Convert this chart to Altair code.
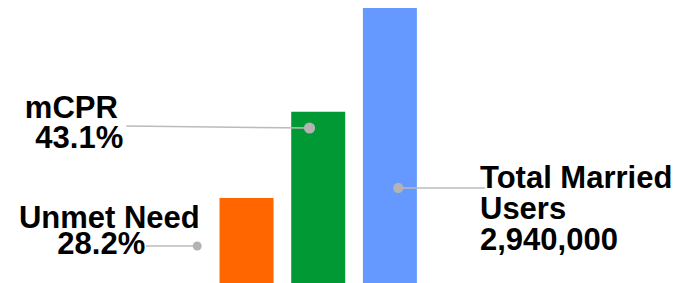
import altair as alt
import pandas as pd

# Bars (values in millions of users)
categories = ["Unmet Need", "mCPR", "Total Married Users"]
positions = [1, 2, 3]
values = [0.90, 1.81, 2.94]
colors = ["#FF6600", "#009933", "#6699FF"]

# Annotation dots (on/near each bar) and leader lines
dot_x = [0.312, 1.879, 3.117]
dot_y = [0.391, 1.639, 1.005]
dot_size = [80, 125, 105]
line_x_start = [-0.402, -0.677, 3.117]
line_y_start = [0.391, 1.660, 1.005]
line_x_end = [0.312, 1.879, 4.326]
line_y_end = [0.391, 1.639, 1.005]

# Label text lines
label_text = ["mCPR", "43.1%", "Unmet Need", "28.2%",
              "Total Married", "Users", "2,940,000"]
label_x = [-2.093, -1.946, -2.176, -1.640, 4.257, 4.257, 4.257]
label_y = [1.745, 1.428, 0.582, 0.307, 1.005, 0.677, 0.349]

bars_df = pd.DataFrame({"cat": categories, "pos": positions, "val": values, "color": colors})
dots_df = pd.DataFrame({"x": dot_x, "y": dot_y, "s": dot_size})
lines_df = pd.DataFrame({"x": line_x_start, "y": line_y_start, "x2": line_x_end, "y2": line_y_end})
text_df = pd.DataFrame({"t": label_text, "x": label_x, "y": label_y})

xs = alt.Scale(domain=[-2.258, 7.117], nice=False, zero=False)
ys = alt.Scale(domain=[0, 2.908], nice=False, zero=True)

bars = alt.Chart(bars_df).mark_bar(size=54).encode(
    x=alt.X("pos:Q", scale=xs, axis=None),
    y=alt.Y("val:Q", scale=ys, axis=None),
    color=alt.Color("color:N", scale=None),
)

lines = alt.Chart(lines_df).mark_rule(color="#BBBBBB", strokeWidth=1.5).encode(
    x=alt.X("x:Q", scale=xs, axis=None),
    y=alt.Y("y:Q", scale=ys, axis=None),
    x2="x2:Q",
    y2="y2:Q",
)

dots = alt.Chart(dots_df).mark_point(filled=True, color="#B3B3B3", opacity=1).encode(
    x=alt.X("x:Q", scale=xs, axis=None),
    y=alt.Y("y:Q", scale=ys, axis=None),
    size=alt.Size("s:Q", scale=None),
)

texts = alt.Chart(text_df).mark_text(
    align="left", baseline="alphabetic", font="Liberation Sans",
    fontWeight="bold", fontSize=31, color="#000000",
).encode(
    x=alt.X("x:Q", scale=xs, axis=None),
    y=alt.Y("y:Q", scale=ys, axis=None),
    text="t:N",
)

chart = alt.layer(bars, lines, dots, texts).properties(
    width=682, height=275, autosize="none", padding=0
).configure_view(stroke=None)

chart.save("out.html", embed_options={"renderer": "svg", "actions": False})
